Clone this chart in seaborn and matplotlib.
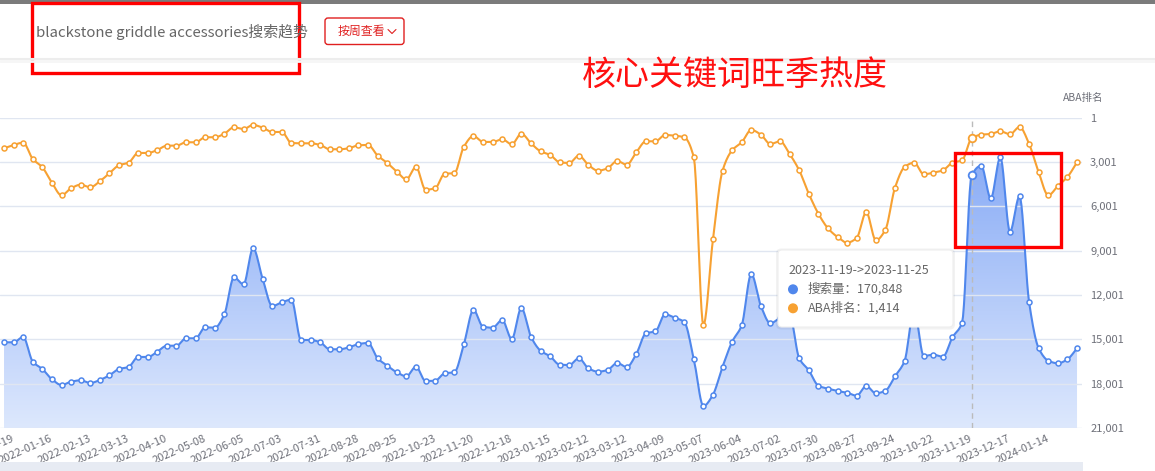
import numpy as np
import pandas as pd
import seaborn as sns
import matplotlib.pyplot as plt
import matplotlib.transforms as mtransforms
from matplotlib.patches import Rectangle, FancyBboxPatch, Circle
from matplotlib.lines import Line2D
from matplotlib.colors import LinearSegmentedColormap

# weekly data, 2021-12-12 .. 2024-02-04
first_week = '2021-12-12'
search_volume = [
    57958, 57958, 61533, 44839, 39902, 32936, 29081, 31313, 32260, 30434,
    32462, 35641, 39902, 41254, 48017, 48017, 51601, 55659, 55659, 60664,
    60664, 68103, 67833, 76895, 101918, 97184, 121531, 100769, 82509, 85011,
    86770, 59514, 59514, 57958, 53225, 53225, 54577, 56809, 57486, 47138,
    42133, 37670, 34965, 41457, 31786, 31989, 36994, 37670, 56606, 79803,
    68509, 67833, 73040, 60191, 81156, 61746, 52278, 48490, 42810, 42607,
    47138, 40375, 38076, 39225, 43960, 41254, 50046, 64046, 65398, 76895,
    74596, 71688, 46665, 14879, 22521, 41457, 58365, 69456, 104150, 82509,
    70809, 74393, 76422, 47138, 39023, 28607, 26579, 25023, 23873, 21845,
    28405, 23468, 25226, 34965, 45312, 79803, 48694, 49573, 48220, 61340,
    71214, 170848, 177393, 155346, 183075, 132758, 156699, 85011, 53901, 45515,
    43757, 46462, 53901]
aba_rank = [
    2083, 1860, 1704, 2807, 3368, 4409, 5262, 4788, 4545, 4721,
    4315, 3774, 3233, 3057, 2401, 2401, 2198, 1907, 1907, 1677,
    1677, 1339, 1339, 1096, 663, 778, 507, 690, 981, 981,
    1725, 1745, 1745, 1860, 2151, 2151, 2083, 1880, 1860, 2583,
    3077, 3665, 4180, 3348, 4883, 4788, 3801, 3774, 1975, 1251,
    1657, 1657, 1474, 1812, 1096, 1745, 2286, 2536, 3030, 3077,
    2583, 3212, 3598, 3436, 2942, 3192, 2354, 1610, 1610, 1184,
    1231, 1339, 2692, 14054, 8237, 3598, 2218, 1677, 845, 1163,
    1792, 1610, 2469, 3571, 5153, 6506, 7494, 8082, 8467, 8150,
    6411, 8305, 7588, 4748, 3348, 3057, 3841, 3733, 3571, 3057,
    2895, 1414, 1163, 1116, 933, 1136, 642, 1792, 3706, 5262,
    4633, 4024, 3030]
rank_ticks = [1, 3001, 6001, 9001, 12001, 15001, 18001, 21001]
volume_max = 210000
hover_idx = 101

title = 'blackstone griddle accessories搜索趋势'
button_label = '按周查看'
note = '核心关键词旺季热度'

BLUE = '#5087EC'
ORANGE = '#F7A132'
GREY = '#6E7079'
GRID = '#E0E6F1'

sns.set_theme(style='white')
plt.rcParams['font.family'] = ['Noto Sans CJK SC', 'DejaVu Sans']


def smooth(xp, yp, num=10):
    # monotone cubic, just for drawing the curve between the points
    xp = np.asarray(xp, float)
    yp = np.asarray(yp, float)
    h = np.diff(xp)
    d = np.diff(yp) / h
    m = np.zeros_like(yp)
    m[0], m[-1] = d[0], d[-1]
    for k in range(1, len(yp) - 1):
        if d[k - 1] * d[k] > 0:
            w1 = 2 * h[k] + h[k - 1]
            w2 = h[k] + 2 * h[k - 1]
            m[k] = (w1 + w2) / (w1 / d[k - 1] + w2 / d[k])
    xs, ys = [], []
    t = np.linspace(0, 1, num, endpoint=False)
    for k in range(len(h)):
        h00 = 2 * t**3 - 3 * t**2 + 1
        h10 = t**3 - 2 * t**2 + t
        h01 = -2 * t**3 + 3 * t**2
        h11 = t**3 - t**2
        xs.append(xp[k] + t * h[k])
        ys.append(h00 * yp[k] + h10 * h[k] * m[k] + h01 * yp[k + 1] + h11 * h[k] * m[k + 1])
    xs.append([xp[-1]])
    ys.append([yp[-1]])
    return np.concatenate(xs), np.concatenate(ys)


weeks = pd.date_range(first_week, periods=len(search_volume), freq='7D')
df = pd.DataFrame({'idx': np.arange(len(weeks)), 'volume': search_volume, 'rank': aba_rank})

W, H = 1155, 471
fig = plt.figure(figsize=(W / 100, H / 100), dpi=100)
fig.patch.set_facecolor('white')
# pixel coords, y downwards
pix = mtransforms.Affine2D().scale(1 / W, -1 / H).translate(0, 1) + fig.transFigure

ax = fig.add_axes([0, 1 - 428 / H, 1082 / W, (428 - 117.5) / H])
ax.set_xlim(-0.42, 112.52)
ax.set_ylim(0, volume_max)
for s in ax.spines.values():
    s.set_visible(False)

# gridlines
for v in np.linspace(0, volume_max, len(rank_ticks)):
    ax.axhline(v, color=GRID, lw=1, zorder=1.5)

# blue area with gradient
xs, ys = smooth(df['idx'], df['volume'])
poly = ax.fill_between(xs, ys, 0, facecolor='none', edgecolor='none')
cmap = LinearSegmentedColormap.from_list('area', ['#DDE8FD', '#7DA3F5'])
im = ax.imshow(np.linspace(0, 1, 256)[:, None], cmap=cmap, origin='lower', aspect='auto',
               extent=[-0.42, 112.52, 0, volume_max], zorder=1)
im.set_clip_path(poly.get_paths()[0], transform=ax.transData)
sns.lineplot(x=xs, y=ys, ax=ax, color=BLUE, linewidth=1.5, zorder=3, estimator=None, sort=False)
ax.scatter(df['idx'], df['volume'], s=13, facecolor='white', edgecolor=BLUE, linewidth=1.1, zorder=4)
ax.scatter([hover_idx], [search_volume[hover_idx]], s=30, facecolor='white', edgecolor=BLUE,
           linewidth=1.3, zorder=5)

ax.axvline(hover_idx, color='#BBBBBB', lw=1, ls=(0, (4, 3)), zorder=2.5)

ax.tick_params(axis='y', left=False, labelleft=False)
ax.set_xticks(df['idx'][1::4])
ax.set_xticklabels([d.strftime('%Y-%m-%d') for d in weeks[1::4]], rotation=24, ha='right',
                   va='center', rotation_mode='anchor')
ax.tick_params(axis='x', length=0, pad=7, labelsize=8, colors=GREY)
ax.set_xlabel('')
ax.set_ylabel('')

# ABA rank on the right, inverted
ax2 = ax.twinx()
ax2.set_ylim(rank_ticks[-1], rank_ticks[0])
for s in ax2.spines.values():
    s.set_visible(False)
xs2, ys2 = smooth(df['idx'], df['rank'])
sns.lineplot(x=xs2, y=ys2, ax=ax2, color=ORANGE, linewidth=1.5, zorder=3, estimator=None, sort=False)
ax2.scatter(df['idx'], df['rank'], s=13, facecolor='white', edgecolor=ORANGE, linewidth=1.1, zorder=4)
ax2.scatter([hover_idx], [aba_rank[hover_idx]], s=30, facecolor='white', edgecolor=ORANGE,
            linewidth=1.3, zorder=5)
ax2.set_yticks(rank_ticks)
ax2.set_yticklabels([f'{t:,}' for t in rank_ticks])
ax2.tick_params(axis='y', length=0, pad=5.8, labelsize=8, colors=GREY)
ax2.set_ylabel('')
fig.text(1083, 97.5, 'ABA排名', transform=pix, ha='center', va='center', fontsize=7.5, color=GREY)

# header
fig.patches.append(Rectangle((0, 0), W, 4, transform=pix, fc='#7B7B7B', ec='none'))
fig.lines.append(Line2D([0, W], [58.5, 58.5], transform=pix, color='#EDEDED', lw=1.5))
fig.lines.append(Line2D([0, W], [60.5, 60.5], transform=pix, color='#F6F6F6', lw=2))
fig.text(36, 32, title, transform=pix, fontsize=10.75, color='#666666', va='center')
fig.patches.append(FancyBboxPatch((325, 18), 79, 26.5, boxstyle='round,pad=0,rounding_size=3',
                                  transform=pix, fc='white', ec='#E02020', lw=1))
fig.text(337.5, 31.5, button_label, transform=pix, fontsize=8.6, color='#E02020', va='center')
fig.lines.append(Line2D([388, 392, 396], [29.5, 33.5, 29.5], transform=pix, color='#E02020', lw=0.8))
fig.patches.append(Rectangle((31.5, 3), 267, 70, transform=pix, fill=False, ec='#FF0000', lw=2.4))
fig.text(582, 75, note, transform=pix, fontsize=24.5, color='#FF1010', va='center')

# highlight box
fig.patches.append(Rectangle((954.5, 152.5), 106, 94, transform=pix, fill=False, ec='#FF0000', lw=2.4))

# tooltip
fig.patches.append(FancyBboxPatch((776, 248.5), 179, 81, boxstyle='round,pad=0,rounding_size=5',
                                  transform=pix, fc='#000000', ec='none', alpha=0.05))
fig.patches.append(FancyBboxPatch((778, 250), 175, 77, boxstyle='round,pad=0,rounding_size=4',
                                  transform=pix, fc='white', ec='#EEEEEE', lw=0.8))
week_end = weeks[hover_idx] + pd.Timedelta(days=6)
fig.text(788, 270, f"{weeks[hover_idx]:%Y-%m-%d}->{week_end:%Y-%m-%d}", transform=pix,
         fontsize=9, color='#666666', va='center')
fig.patches.append(Circle((793, 289.3), 5, transform=pix, fc=BLUE, ec='none'))
fig.text(807.5, 289.3, f'搜索量：{search_volume[hover_idx]:,}', transform=pix, fontsize=9,
         color='#666666', va='center')
fig.patches.append(Circle((793, 308.3), 5, transform=pix, fc=ORANGE, ec='none'))
fig.text(807.5, 308.3, f'ABA排名：{aba_rank[hover_idx]:,}', transform=pix, fontsize=9,
         color='#666666', va='center')

# slider strip at the bottom
fig.patches.append(Rectangle((0, 462), 1083, 9, transform=pix, fc='#E7EBF3', ec='none'))

plt.savefig('out.png', dpi=100)
